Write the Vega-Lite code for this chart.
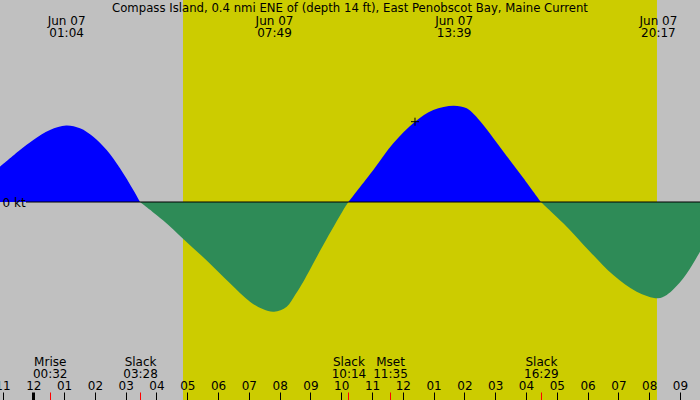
{
  "$schema": "https://vega.github.io/schema/vega-lite/v6.json",
  "width": 700,
  "height": 400,
  "padding": 0,
  "autosize": {"type": "none"},
  "background": "#c0c0c0",
  "config": {"view": {"stroke": null}, "font": "DejaVu Sans"},
  "title": {
    "text": "Compass Island, 0.4 nmi ENE of (depth 14 ft), East Penobscot Bay, Maine Current",
    "frame": "group", "anchor": "middle", "orient": "top", "offset": -24,
    "baseline": "alphabetic", "fontSize": 11.7, "fontWeight": "normal",
    "font": "DejaVu Sans", "color": "black"
  },
  "datasets": {
    "curve": [
      {"t": -1.0813, "v": 0.353, "dir": "flood", "seg": "a"},
      {"t": -0.432, "v": 0.52, "dir": "flood", "seg": "a"},
      {"t": 0.0, "v": 0.62, "dir": "flood", "seg": "a"},
      {"t": 0.542, "v": 0.72, "dir": "flood", "seg": "a"},
      {"t": 1.067, "v": 0.765, "dir": "flood", "seg": "a"},
      {"t": 1.516, "v": 0.737, "dir": "flood", "seg": "a"},
      {"t": 1.948, "v": 0.653, "dir": "flood", "seg": "a"},
      {"t": 2.383, "v": 0.52, "dir": "flood", "seg": "a"},
      {"t": 2.815, "v": 0.337, "dir": "flood", "seg": "a"},
      {"t": 3.247, "v": 0.12, "dir": "flood", "seg": "a"},
      {"t": 3.467, "v": 0.0, "dir": "flood", "seg": "a"},
      {"t": 3.467, "v": 0.0, "dir": "ebb", "seg": "b"},
      {"t": 4.221, "v": -0.185, "dir": "ebb", "seg": "b"},
      {"t": 4.871, "v": -0.37, "dir": "ebb", "seg": "b"},
      {"t": 5.631, "v": -0.585, "dir": "ebb", "seg": "b"},
      {"t": 6.387, "v": -0.813, "dir": "ebb", "seg": "b"},
      {"t": 7.037, "v": -0.997, "dir": "ebb", "seg": "b"},
      {"t": 7.469, "v": -1.073, "dir": "ebb", "seg": "b"},
      {"t": 7.817, "v": -1.097, "dir": "ebb", "seg": "b"},
      {"t": 8.229, "v": -1.047, "dir": "ebb", "seg": "b"},
      {"t": 8.5, "v": -0.93, "dir": "ebb", "seg": "b"},
      {"t": 8.768, "v": -0.797, "dir": "ebb", "seg": "b"},
      {"t": 9.417, "v": -0.43, "dir": "ebb", "seg": "b"},
      {"t": 10.067, "v": -0.08, "dir": "ebb", "seg": "b"},
      {"t": 10.233, "v": 0.0, "dir": "ebb", "seg": "b"},
      {"t": 10.233, "v": 0.0, "dir": "flood", "seg": "c"},
      {"t": 11.041, "v": 0.32, "dir": "flood", "seg": "c"},
      {"t": 11.69, "v": 0.587, "dir": "flood", "seg": "c"},
      {"t": 12.395, "v": 0.803, "dir": "flood", "seg": "c"},
      {"t": 12.989, "v": 0.92, "dir": "flood", "seg": "c"},
      {"t": 13.65, "v": 0.963, "dir": "flood", "seg": "c"},
      {"t": 14.074, "v": 0.937, "dir": "flood", "seg": "c"},
      {"t": 14.3, "v": 0.88, "dir": "flood", "seg": "c"},
      {"t": 14.613, "v": 0.77, "dir": "flood", "seg": "c"},
      {"t": 15.262, "v": 0.505, "dir": "flood", "seg": "c"},
      {"t": 15.912, "v": 0.24, "dir": "flood", "seg": "c"},
      {"t": 16.483, "v": 0.0, "dir": "flood", "seg": "c"},
      {"t": 16.483, "v": 0.0, "dir": "ebb", "seg": "d"},
      {"t": 17.211, "v": -0.213, "dir": "ebb", "seg": "d"},
      {"t": 18.078, "v": -0.497, "dir": "ebb", "seg": "d"},
      {"t": 18.834, "v": -0.73, "dir": "ebb", "seg": "d"},
      {"t": 19.594, "v": -0.897, "dir": "ebb", "seg": "d"},
      {"t": 20.283, "v": -0.963, "dir": "ebb", "seg": "d"},
      {"t": 20.569, "v": -0.93, "dir": "ebb", "seg": "d"},
      {"t": 21.107, "v": -0.763, "dir": "ebb", "seg": "d"},
      {"t": 21.65, "v": -0.497, "dir": "ebb", "seg": "d"}
    ],
    "daylight": [{"start": 4.861, "end": 20.253}],
    "marker": [{"t": 12.395, "v": 0.803}]
  },
  "layer": [
    {
      "data": {"name": "daylight"},
      "mark": {"type": "rect", "color": "#cccc00"},
      "encoding": {
        "x": {
          "field": "start", "type": "quantitative",
          "scale": {"domain": [-1.0813, 21.65], "nice": false, "zero": false},
          "axis": {
            "orient": "top", "offset": -400, "title": null,
            "values": [-1, 0, 1, 2, 3, 4, 5, 6, 7, 8, 9, 10, 11, 12, 13, 14, 15, 16, 17, 18, 19, 20, 21],
            "labelExpr": "pad(toString((datum.value % 12 + 12) % 12 == 0 ? 12 : (datum.value % 12 + 12) % 12), 2, '0', 'left')",
            "domain": false, "grid": false, "ticks": true, "tickSize": 8,
            "tickColor": "black",
            "tickWidth": {"condition": {"test": "datum.value == 0", "value": 3}, "value": 1},
            "labelFont": "DejaVu Sans", "labelFontSize": 12, "labelColor": "black",
            "labelPadding": 0, "labelOverlap": false, "labelFlush": false, "labelBound": false,
            "zindex": 2
          }
        },
        "x2": {"field": "end"}
      }
    },
    {
      "data": {"name": "curve"},
      "mark": {"type": "area", "interpolate": "catmull-rom", "opacity": 1},
      "encoding": {
        "x": {
          "field": "t", "type": "quantitative",
          "scale": {"domain": [-1.0813, 21.65], "nice": false, "zero": false},
          "axis": {
            "orient": "top", "offset": -27, "title": null,
            "values": [1.0666667, 7.8166667, 13.65, 20.2833333],
            "labelExpr": "['Jun 07', pad(toString(floor(datum.value)), 2, '0', 'left') + ':' + pad(toString(round((datum.value - floor(datum.value)) * 60)), 2, '0', 'left')]",
            "domain": false, "grid": false, "ticks": false, "tickSize": 0,
            "labelFont": "DejaVu Sans", "labelFontSize": 12, "labelColor": "black",
            "labelLineHeight": 12,
            "labelPadding": 0, "labelOverlap": false, "labelFlush": false, "labelBound": false,
            "zindex": 2
          }
        },
        "y": {
          "field": "v", "type": "quantitative", "stack": null,
          "scale": {"domain": [-1.98, 2.02], "nice": false, "zero": false},
          "axis": {
            "orient": "right", "offset": -700, "title": null, "values": [0],
            "labelExpr": "'0 kt'", "domain": false, "grid": false, "ticks": false, "tickSize": 0,
            "labelFont": "DejaVu Sans", "labelFontSize": 12, "labelColor": "black",
            "labelPadding": 2, "labelAlign": "left", "labelBaseline": "middle",
            "labelOverlap": false, "labelFlush": false, "labelBound": false,
            "zindex": 2
          }
        },
        "y2": {"datum": 0},
        "color": {
          "field": "dir", "type": "nominal",
          "scale": {"domain": ["flood", "ebb"], "range": ["#0000ff", "#2e8b57"]},
          "legend": null
        },
        "detail": {"field": "seg"}
      }
    },
    {
      "data": {"values": [{}]},
      "mark": {"type": "rule", "color": "black", "strokeWidth": 1},
      "encoding": {
        "x": {"datum": -0.237, "type": "quantitative",
              "scale": {"domain": [-1.0813, 21.65], "nice": false, "zero": false}, "axis": null},
        "x2": {"datum": 21.65},
        "y": {"datum": 0, "type": "quantitative",
              "scale": {"domain": [-1.98, 2.02], "nice": false, "zero": false}, "axis": null}
      }
    },
    {
      "data": {"name": "marker"},
      "mark": {"type": "point", "shape": "M-1,0L1,0M0,-1L0,1", "size": 64,
               "color": "black", "filled": false, "strokeWidth": 1, "opacity": 1},
      "encoding": {
        "x": {
          "field": "t", "type": "quantitative",
          "scale": {"domain": [-1.0813, 21.65], "nice": false, "zero": false},
          "axis": {
            "orient": "top", "offset": -400, "title": null,
            "values": [0.5333333, 3.4666667, 10.2333333, 11.5833333, 16.4833333],
            "labelExpr": "[datum.value < 1 ? 'Mrise' : (datum.value > 11 && datum.value < 12 ? 'Mset' : 'Slack'), pad(toString(floor(datum.value)), 2, '0', 'left') + ':' + pad(toString(round((datum.value - floor(datum.value)) * 60)), 2, '0', 'left')]",
            "domain": false, "grid": false, "ticks": true, "tickSize": 8,
            "tickColor": "#ff0000", "tickWidth": 1,
            "labelFont": "DejaVu Sans", "labelFontSize": 12, "labelColor": "black",
            "labelLineHeight": 12,
            "labelPadding": 24, "labelOverlap": false, "labelFlush": false, "labelBound": false,
            "zindex": 2
          }
        },
        "y": {
          "field": "v", "type": "quantitative",
          "scale": {"domain": [-1.98, 2.02], "nice": false, "zero": false}, "axis": null
        }
      }
    }
  ],
  "resolve": {"axis": {"x": "independent", "y": "independent"}}
}
